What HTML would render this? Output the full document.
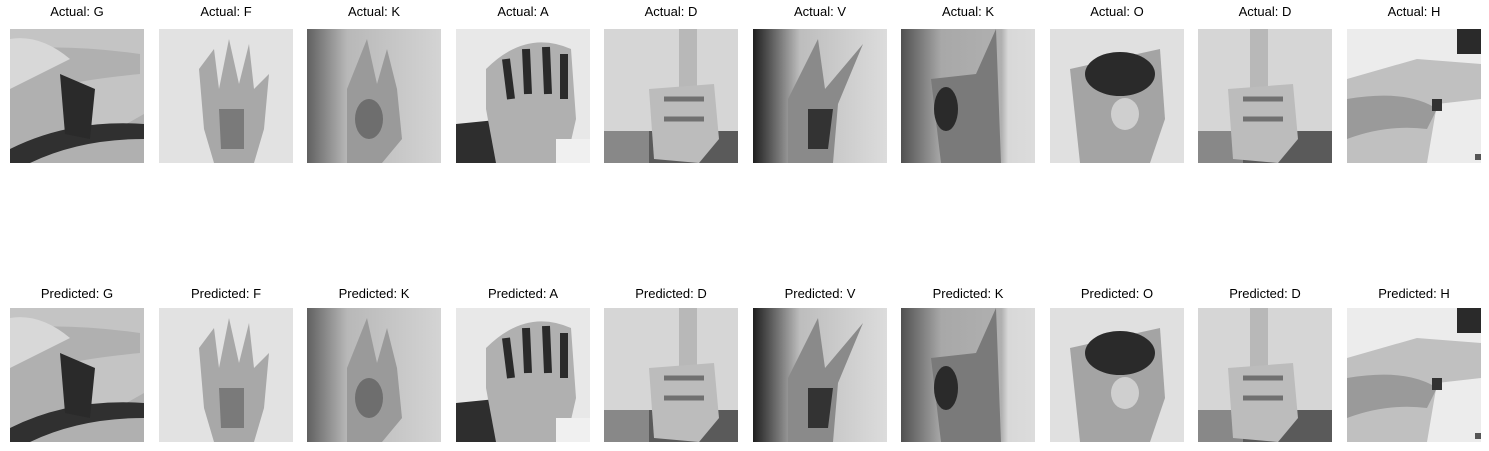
<!DOCTYPE html>
<html><head><meta charset="utf-8">
<style>
body{margin:0;background:#fff;width:1489px;height:451px;position:relative;overflow:hidden;font-family:"Liberation Sans","DejaVu Sans",sans-serif}
.t{position:absolute;width:160px;text-align:center;font-size:13px;color:#000}
svg.im{position:absolute;width:134px;height:134px}
</style></head><body>
<div id="root"></div>
<script>
const actual=["G","F","K","A","D","V","K","O","D","H"];
const predicted=["G","F","K","A","D","V","K","O","D","H"];
const xs=[10,159,307,456,604,753,901,1050,1198,1347];
const art=[
`<rect width="134" height="134" fill="#c4c4c4"/><path d="M0 20 Q60 15 130 25 L130 45 Q80 50 60 55 L90 110 L134 85 L134 134 L0 134Z" fill="#b0b0b0"/><path d="M0 134 L0 120 Q60 90 134 95 L134 110 Q70 110 20 134Z" fill="#303030"/><path d="M50 45 L85 60 L80 110 L55 105 Z" fill="#2a2a2a"/><path d="M0 10 Q30 5 60 30 L0 60Z" fill="#d8d8d8"/>`,
`<rect width="134" height="134" fill="#e2e2e2"/><path d="M40 40 L55 20 L60 60 L70 10 L80 55 L90 15 L95 60 L110 45 L105 100 L95 134 L55 134 L45 100Z" fill="#a8a8a8"/><path d="M60 80 L85 80 L85 120 L62 120Z" fill="#7a7a7a"/>`,
`<defs><linearGradient id="g3" x1="0" x2="1"><stop offset="0" stop-color="#606060"/><stop offset=".3" stop-color="#b8b8b8"/><stop offset="1" stop-color="#d4d4d4"/></linearGradient></defs><rect width="134" height="134" fill="url(#g3)"/><path d="M40 60 L60 10 L70 55 L80 20 L90 60 L95 110 L75 134 L40 134Z" fill="#9a9a9a"/><ellipse cx="62" cy="90" rx="14" ry="20" fill="#6e6e6e"/>`,
`<rect width="134" height="134" fill="#e8e8e8"/><path d="M0 95 L50 90 L40 134 L0 134Z" fill="#2e2e2e"/><path d="M30 40 Q70 0 115 20 L120 90 L110 134 L40 134 L30 80Z" fill="#b0b0b0"/><path d="M50 30 L55 70 M70 20 L72 65 M90 18 L92 65 M108 25 L108 70" stroke="#2a2a2a" stroke-width="8"/><rect x="100" y="110" width="34" height="24" fill="#f0f0f0"/>`,
`<rect width="134" height="134" fill="#d6d6d6"/><rect y="102" width="134" height="32" fill="#5a5a5a"/><rect x="0" y="102" width="45" height="32" fill="#888"/><rect x="75" y="0" width="18" height="60" fill="#b8b8b8"/><path d="M45 60 L110 55 L115 110 L95 134 L50 130Z" fill="#bcbcbc"/><path d="M60 70 L100 70 M60 90 L100 90" stroke="#707070" stroke-width="5"/>`,
`<defs><linearGradient id="g6" x1="0" x2="1"><stop offset="0" stop-color="#1e1e1e"/><stop offset=".35" stop-color="#bdbdbd"/><stop offset="1" stop-color="#dcdcdc"/></linearGradient></defs><rect width="134" height="134" fill="url(#g6)"/><path d="M35 70 L65 10 L72 60 L110 15 L85 75 L80 134 L35 134Z" fill="#8a8a8a"/><path d="M55 80 L80 80 L75 120 L55 120Z" fill="#333"/>`,
`<defs><linearGradient id="g7" x1="0" x2="1"><stop offset="0" stop-color="#505050"/><stop offset=".3" stop-color="#a8a8a8"/><stop offset=".75" stop-color="#b0b0b0"/><stop offset=".8" stop-color="#d8d8d8"/><stop offset="1" stop-color="#dcdcdc"/></linearGradient></defs><rect width="134" height="134" fill="url(#g7)"/><path d="M30 50 L75 45 L95 0 L100 134 L40 134Z" fill="#7a7a7a"/><ellipse cx="45" cy="80" rx="12" ry="22" fill="#2a2a2a"/>`,
`<rect width="134" height="134" fill="#e0e0e0"/><path d="M20 40 L110 20 L115 90 L100 134 L30 134Z" fill="#a4a4a4"/><ellipse cx="70" cy="45" rx="35" ry="22" fill="#2a2a2a"/><ellipse cx="75" cy="85" rx="14" ry="16" fill="#cfcfcf"/>`,
`<rect width="134" height="134" fill="#d6d6d6"/><rect y="102" width="134" height="32" fill="#5a5a5a"/><rect x="0" y="102" width="45" height="32" fill="#888"/><rect x="52" y="0" width="18" height="60" fill="#b8b8b8"/><path d="M30 60 L95 55 L100 110 L80 134 L35 130Z" fill="#bcbcbc"/><path d="M45 70 L85 70 M45 90 L85 90" stroke="#707070" stroke-width="5"/>`,
`<rect width="134" height="134" fill="#ececec"/><path d="M0 50 L70 30 L134 35 L134 70 L90 75 L80 134 L0 134Z" fill="#c0c0c0"/><path d="M0 70 Q60 60 90 80 L80 100 Q40 95 0 110Z" fill="#9a9a9a"/><rect x="110" y="0" width="24" height="25" fill="#2a2a2a"/><rect x="85" y="70" width="10" height="12" fill="#333"/><rect x="128" y="125" width="6" height="6" fill="#555"/>`
];
const root=document.getElementById('root');
function mk(rowY,titleY,labels,prefix,rowName){
 for(let i=0;i<xs.length;i++){
  const t=document.createElement('div');
  t.className='t';t.style.left=(xs[i]+67-80)+'px';t.style.top=titleY+'px';
  t.textContent=prefix+labels[i];
  
  
  root.appendChild(t);
  const s=document.createElementNS('http://www.w3.org/2000/svg','svg');
  s.setAttribute('class','im');s.setAttribute('viewBox','0 0 134 134');
  s.style.left=xs[i]+'px';s.style.top=rowY+'px';
  s.innerHTML=art[i].replace(/id="(g\d)"/g,'id="$1'+rowName+'"').replace(/url\(#(g\d)\)/g,'url(#$1'+rowName+')');
  
  
  root.appendChild(s);
 }
}
mk(29,4,actual,'Actual: ','actual');
mk(308,286,predicted,'Predicted: ','predicted');
</script>
</body></html>
